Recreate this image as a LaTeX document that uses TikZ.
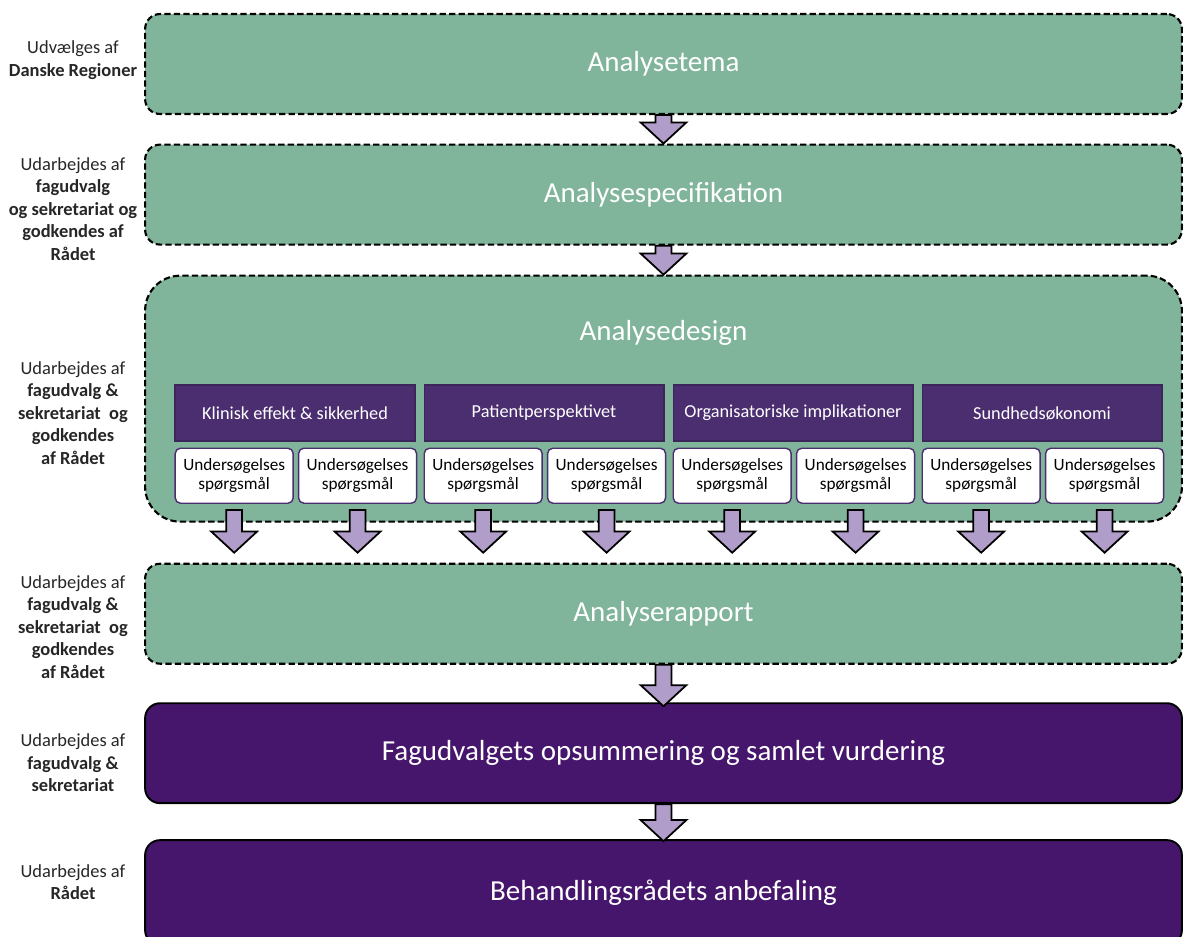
\documentclass[tikz,border=0pt]{standalone}
\usepackage{fontspec}
\setmainfont{Carlito}
\usepackage{tikz}
\usetikzlibrary{positioning,calc}
\definecolor{tealgreen}{RGB}{128,180,155}
\definecolor{deeppurple}{RGB}{69,22,107}
\definecolor{headpurple}{RGB}{75,46,112}
\definecolor{arrowlilac}{RGB}{177,157,201}

% block arrow: shaft starts at #1, tip ends at #2
\newcommand{\blockarrow}[2]{%
  \draw[barr] let \p1=(#1), \p2=(#2) in
    (\x1-4.5pt,\y1) -- (\x1+4.5pt,\y1) -- (\x1+4.5pt,\y2+12pt) -- (\x1+13pt,\y2+12pt)
    -- (\x1,\y2) -- (\x1-13pt,\y2+12pt) -- (\x1-4.5pt,\y2+12pt) -- cycle;}

\begin{document}
\begin{tikzpicture}[
    x=0.02cm, y=0.02cm,
    stage/.style={rectangle, rounded corners=0.3cm, minimum width=20.74cm, minimum height=2cm, text=white, font=\fontsize{16.5}{20}\selectfont},
    draft/.style={stage, fill=tealgreen, draw=black, line width=1.2pt, dash pattern=on 3.6pt off 1.8pt},
    final/.style={stage, fill=deeppurple, draw=black, line width=1.1pt},
    who/.style={align=center, text=black!85, font=\fontsize{10.5}{12.8}\selectfont},
    area/.style={rectangle, fill=headpurple, draw=headpurple!80!black, line width=0.6pt, minimum width=4.8cm, minimum height=1.12cm, inner sep=0pt, text=white, font=\fontsize{10.4}{12}\selectfont},
    quest/.style={rectangle, rounded corners=3pt, fill=white, draw=headpurple, line width=0.8pt, minimum width=2.36cm, minimum height=1.1cm, inner sep=0pt, align=center, font=\fontsize{9.8}{10.6}\selectfont},
    barr/.style={fill=arrowlilac, draw=black, line width=1pt, line join=miter}
]
    \useasboundingbox (0,0) rectangle (1184,-937);

    % main stages
    \node[draft] (tema) at (663.5,-64) {Analysetema};
    \node[draft, below=0.57cm of tema] (spec) {Analysespecifikation};
    \node[draft, minimum height=4.92cm, rounded corners=0.7cm, below=0.58cm of spec] (design) {};
    \node[text=white, font=\fontsize{16.5}{20}\selectfont] (designtitle) at ($(design.north)+(0,-58)$) {Analysedesign};
    \node[draft, below=0.8cm of design] (rapport) {Analyserapport};
    \node[final, below=0.75cm of rapport] (fag) {Fagudvalgets opsummering og samlet vurdering};
    \node[final, minimum height=2.1cm, below=0.7cm of fag] (beh) {Behandlingsrådets anbefaling};

    % analysis areas
    \node[area] (klin) at (295,-413) {Klinisk effekt \& sikkerhed};
    \node[area, right=0.16cm of klin] (pat) {Patientperspektivet};
    \node[area, right=0.16cm of pat] (org) {Organisatoriske implikationer};
    \node[area, right=0.16cm of org] (oek) {Sundhedsøkonomi};

    \node[quest, below right=0.12cm and 0cm of klin.south west] (q1) {Undersøgelses\\spørgsmål};
    \node[quest, right=0.08cm of q1] (q2) {Undersøgelses\\spørgsmål};
    \node[quest, below right=0.12cm and 0cm of pat.south west] (q3) {Undersøgelses\\spørgsmål};
    \node[quest, right=0.08cm of q3] (q4) {Undersøgelses\\spørgsmål};
    \node[quest, below right=0.12cm and 0cm of org.south west] (q5) {Undersøgelses\\spørgsmål};
    \node[quest, right=0.08cm of q5] (q6) {Undersøgelses\\spørgsmål};
    \node[quest, below right=0.12cm and 0cm of oek.south west] (q7) {Undersøgelses\\spørgsmål};
    \node[quest, right=0.08cm of q7] (q8) {Undersøgelses\\spørgsmål};

    % who does what
    \node[who] (who1) at (73,-60) {Udvælges af\\\textbf{Danske Regioner}};
    \node[who] (who2) at (73,-209) {Udarbejdes af\\\textbf{fagudvalg}\\\textbf{og sekretariat og}\\\textbf{godkendes af}\\\textbf{Rådet}};
    \node[who] (who3) at (73,-413) {Udarbejdes af\\\textbf{fagudvalg \&}\\\textbf{sekretariat\ \ og}\\\textbf{godkendes}\\\textbf{af Rådet}};
    \node[who] (who4) at (73,-627) {Udarbejdes af\\\textbf{fagudvalg \&}\\\textbf{sekretariat\ \ og}\\\textbf{godkendes}\\\textbf{af Rådet}};
    \node[who] (who5) at (73,-763) {Udarbejdes af\\\textbf{fagudvalg \&}\\\textbf{sekretariat}};
    \node[who] (who6) at (73,-882) {Udarbejdes af\\\textbf{Rådet}};

    % flow
    \blockarrow{tema.south}{spec.north}
    \blockarrow{spec.south}{design.north}
    \blockarrow{$(q1.south)+(0,-6)$}{$(rapport.north)+(0,10)$}
    \blockarrow{$(q2.south)+(0,-6)$}{$(rapport.north)+(0,10)$}
    \blockarrow{$(q3.south)+(0,-6)$}{$(rapport.north)+(0,10)$}
    \blockarrow{$(q4.south)+(0,-6)$}{$(rapport.north)+(0,10)$}
    \blockarrow{$(q5.south)+(0,-6)$}{$(rapport.north)+(0,10)$}
    \blockarrow{$(q6.south)+(0,-6)$}{$(rapport.north)+(0,10)$}
    \blockarrow{$(q7.south)+(0,-6)$}{$(rapport.north)+(0,10)$}
    \blockarrow{$(q8.south)+(0,-6)$}{$(rapport.north)+(0,10)$}
    \blockarrow{rapport.south}{$(fag.north)+(0,-4)$}
    \blockarrow{fag.south}{$(beh.north)+(0,-2)$}
\end{tikzpicture}
\end{document}
